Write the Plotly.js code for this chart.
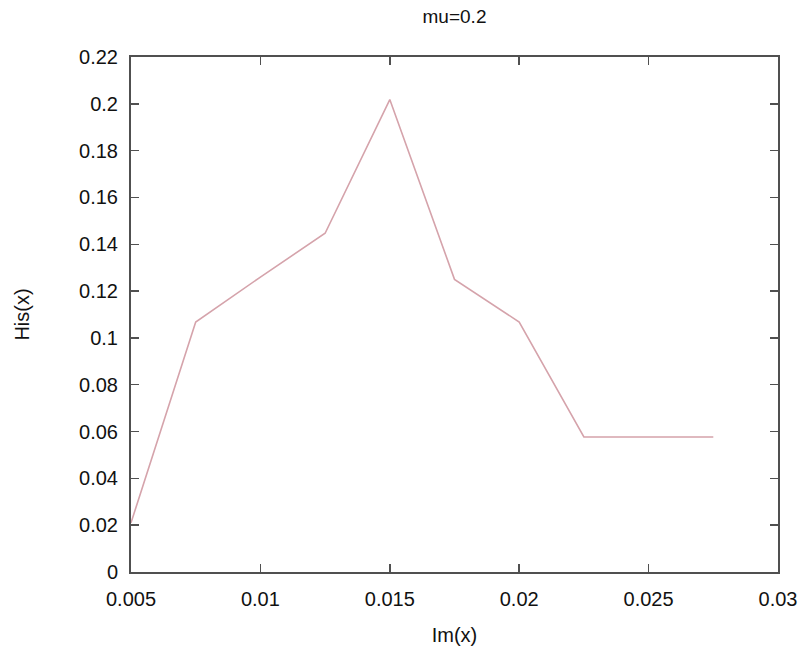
<!DOCTYPE html>
<html>
<head>
<meta charset="utf-8">
<script src="https://cdn.plot.ly/plotly-3.0.1.min.js"></script>
<style>html,body{margin:0;padding:0;background:#fff;}#chart{width:806px;height:657px;}</style>
</head>
<body>
<div id="chart"></div>
<script>
const imX = [0.005, 0.0075, 0.01, 0.0125, 0.015, 0.0175, 0.02, 0.0225, 0.025, 0.0275];
const hisY = [0.021, 0.1068, 0.126, 0.1447, 0.2018, 0.125, 0.1068, 0.0577, 0.0577, 0.0577];
const xTickVals = [0.005, 0.01, 0.015, 0.02, 0.025, 0.03];
const xTickText = ["0.005", "0.01", "0.015", "0.02", "0.025", "0.03"];
const yTickVals = [0, 0.02, 0.04, 0.06, 0.08, 0.1, 0.12, 0.14, 0.16, 0.18, 0.2, 0.22];
const yTickText = ["0", "0.02", "0.04", "0.06", "0.08", "0.1", "0.12", "0.14", "0.16", "0.18", "0.2", "0.22"];

const fontFam = "Liberation Sans, Arial, sans-serif";
const trace = {
  x: imX, y: hisY, type: 'scatter', mode: 'lines',
  line: {color: '#d5a3ab', width: 1.6},
  hoverinfo: 'skip'
};
const axisCommon = {
  showgrid: false, zeroline: false,
  showline: true, linecolor: '#505050', linewidth: 2,
  mirror: 'ticks', ticks: 'inside', ticklen: 8, tickwidth: 1.5, tickcolor: '#505050',
  tickfont: {family: fontFam, size: 20, color: '#111'},
  tickmode: 'array'
};
const layout = {
  width: 806, height: 657,
  margin: {l: 131, r: 28, t: 57, b: 85},
  paper_bgcolor: '#fff', plot_bgcolor: '#fff',
  showlegend: false,
  title: {text: 'mu=0.2', font: {family: fontFam, size: 19, color: '#111'},
          xref: 'paper', x: 0.5, xanchor: 'center', yref: 'container', y: 1 - 16/657, yanchor: 'middle'},
  xaxis: Object.assign({}, axisCommon, {
    range: [0.005, 0.03], tickvals: xTickVals, ticktext: xTickText, ticklabelstandoff: 8,
    title: {text: 'Im(x)', font: {family: fontFam, size: 20, color: '#111'}, standoff: 19}
  }),
  yaxis: Object.assign({}, axisCommon, {
    range: [0, 0.22], tickvals: yTickVals, ticktext: yTickText, ticklabelstandoff: 7,
    title: {text: 'His(x)', font: {family: fontFam, size: 20, color: '#111'}, standoff: 44}
  })
};
Plotly.newPlot('chart', [trace], layout, {displayModeBar: false, staticPlot: true});
</script>
</body>
</html>
